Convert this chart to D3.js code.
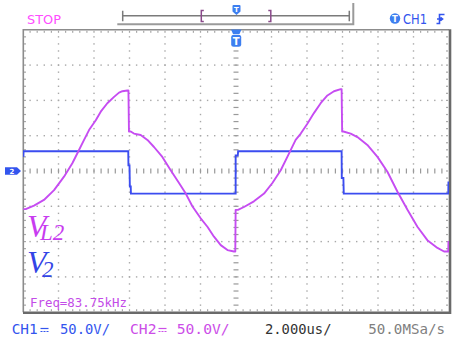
<!DOCTYPE html>
<html>
<head>
<meta charset="utf-8">
<script src="https://cdn.jsdelivr.net/npm/d3@7/dist/d3.min.js"></script>
<style>
  html, body { margin: 0; padding: 0; background: #fff; }
  svg { display: block; }
</style>
</head>
<body>
<svg id="scope" width="453" height="340"></svg>
<script>
// Oscilloscope capture: V_L2 (CH2, magenta) and V_2 (CH1, blue), 2 us/div, 50 V/div.

// Time axis (microseconds): 12 divisions of 2 us, trigger at centre.
const timeDivisions = [-12, -10, -8, -6, -4, -2, 0, 2, 4, 6, 8, 10, 12];
// Voltage axis (volts): 8 divisions of 50 V.
const voltDivisions = [-200, -150, -100, -50, 0, 50, 100, 150, 200];

// CH2 trace, inductor voltage V_L2
const vl2Time = [-11.98, -11.85, -11.38, -10.82, -10.25, -9.69, -9.22, -8.88, -8.56, -8.28,
  -7.90, -7.62, -7.25, -6.87, -6.59, -6.40, -6.12, -6.06, -6.03, -5.93,
  -5.75, -5.37, -4.99, -4.62, -4.15, -3.68, -3.21, -2.83, -2.46, -1.99,
  -1.61, -1.24, -0.86, -0.48, -0.11, -0.04, -0.02, 0.11, 0.45, 1.01,
  1.58, 2.05, 2.52, 2.99, 3.36, 3.65, 4.02, 4.39, 4.77, 5.15,
  5.52, 5.90, 5.95, 5.98, 6.05, 6.46, 6.84, 7.40, 7.97, 8.53,
  9.09, 9.66, 10.22, 10.78, 11.35, 11.72, 11.96, 11.97];
const vl2Volts = [-54, -54, -49, -41, -27, -8, 11, 28, 44, 58,
  72, 84, 96, 105, 111, 113, 114, 114, 56, 56,
  53, 51, 44, 34, 20, 1, -17, -32, -50, -67,
  -79, -93, -105, -112, -114, -114, -55, -55, -51, -43,
  -32, -17, 1, 25, 44, 53, 67, 82, 96, 107,
  113, 116, 116, 56, 56, 53, 48, 37, 20, -1,
  -29, -55, -79, -98, -109, -114, -114, -99];

// CH1 trace, square-wave voltage V_2
const v2Time = [-11.98, -11.97, -6.07, -6.06, -6.00, -5.98, -5.93, -5.92, -0.02, -0.02,
  0.10, 0.12, 5.95, 5.96, 6.05, 6.07, 11.96, 11.97];
const v2Volts = [20, 28, 28, 8, 8, -22, -22, -32, -32, 22,
  22, 28, 28, -10, -10, -32, -32, -15];

// Read-out strings
const statusText = "STOP";
const triggerSource = "CH1";
const freqText = "Freq=83.75kHz";
const ch1Scale = "50.0V/";
const ch2Scale = "50.0V/";
const timeScale = "2.000us/";
const sampleRate = "50.0MSa/s";

const svg = d3.select("#scope");

const x = d3.scaleLinear().domain([-12, 12]).range([23, 449]);
const y = d3.scaleLinear().domain([-200, 200]).range([312.2, 29.8]);

const gridColor = "#a8a8a8";
const subX = (x(2) - x(0)) / 5;
const subY = (y(0) - y(50)) / 5;

// ---- top status bar ----
svg.append("text").attr("x", 27).attr("y", 24)
  .attr("font-family", "DejaVu Sans").attr("font-size", 13)
  .attr("textLength", 34).attr("lengthAdjust", "spacingAndGlyphs")
  .attr("fill", "#ff4dff").text(statusText);

// memory window bar
const bar = svg.append("g").attr("fill", "none");
bar.append("path").attr("d", "M117.3,24.3 H353.3 V3").attr("stroke", "#9a9a9a").attr("stroke-width", 2);
bar.append("path").attr("d", "M122.7,15.7 H349.3 M122.7,10.7 V21.3 M349.3,10.7 V21.3")
  .attr("stroke", "#7a7a7a").attr("stroke-width", 1.5);
bar.append("path").attr("d", "M203.8,10.5 H201.3 V21.5 H203.8 M268.3,10.5 H270.8 V21.5 H268.3")
  .attr("stroke", "#8a4a8a").attr("stroke-width", 1.5);
// small trigger-position tag on the bar
svg.append("path")
  .attr("d", "M232.5,6 Q232.5,5 233.5,5 H239.5 Q240.5,5 240.5,6 V11.5 L236.5,15 L232.5,11.5 Z")
  .attr("fill", "#3d7ff0");
svg.append("text").attr("x", 236.5).attr("y", 11.5).attr("text-anchor", "middle")
  .attr("font-family", "DejaVu Sans").attr("font-weight", "bold").attr("font-size", 7)
  .attr("fill", "#fff").text("T");

// trigger source read-out
svg.append("circle").attr("cx", 395).attr("cy", 18.5).attr("r", 5.2).attr("fill", "#3d7ff0");
svg.append("text").attr("x", 395).attr("y", 22).attr("text-anchor", "middle")
  .attr("font-family", "DejaVu Sans").attr("font-weight", "bold").attr("font-size", 8.5)
  .attr("fill", "#fff").text("T");
svg.append("text").attr("x", 403).attr("y", 24)
  .attr("font-family", "DejaVu Sans").attr("font-size", 14)
  .attr("textLength", 24).attr("lengthAdjust", "spacingAndGlyphs")
  .attr("fill", "#3355ee").text(triggerSource);
// rising-edge symbol
svg.append("path").attr("d", "M436.5,23.5 H439.5 V14.5 H444.5 M437,19 H442.5 M440.5,17.5 L442.5,19 L440.5,20.5")
  .attr("fill", "none").attr("stroke", "#3355ee").attr("stroke-width", 1.6);

// ---- graticule ----
const grid = svg.append("g");
const innerX = timeDivisions.filter(d => d > -12 && d < 12 && d !== 0);
const innerY = voltDivisions.filter(d => d > -200 && d < 200 && d !== 0);
const ySubs = d3.range(0, 41).map(i => y(-200) - i * subY);
const xSubs = d3.range(0, 61).map(i => x(-12) + i * subX);

innerX.forEach(t => {
  ySubs.slice(1, -1).forEach(py => {
    grid.append("rect").attr("x", x(t) - 0.7).attr("y", py - 0.7)
      .attr("width", 1.4).attr("height", 1.4).attr("fill", gridColor);
  });
});
innerY.forEach(v => {
  xSubs.slice(1, -1).forEach(px => {
    grid.append("rect").attr("x", px - 0.7).attr("y", y(v) - 0.7)
      .attr("width", 1.4).attr("height", 1.4).attr("fill", gridColor);
  });
});
// centre axes carry short dashes
xSubs.slice(1, -1).forEach(px => {
  grid.append("rect").attr("x", px - 0.6).attr("y", y(0) - 2.5)
    .attr("width", 1.2).attr("height", 5).attr("fill", "#9a9a9a");
});
ySubs.slice(1, -1).forEach(py => {
  grid.append("rect").attr("x", x(0) - 2.5).attr("y", py - 0.6)
    .attr("width", 5).attr("height", 1.2).attr("fill", "#9a9a9a");
});
// border ticks
xSubs.slice(1, -1).forEach(px => {
  grid.append("rect").attr("x", px - 0.6).attr("y", y(200) + 1).attr("width", 1.2).attr("height", 2).attr("fill", gridColor);
  grid.append("rect").attr("x", px - 0.6).attr("y", y(-200) - 3).attr("width", 1.2).attr("height", 2).attr("fill", gridColor);
});
ySubs.slice(1, -1).forEach(py => {
  grid.append("rect").attr("x", x(-12) + 1).attr("y", py - 0.6).attr("width", 2).attr("height", 1.2).attr("fill", gridColor);
  grid.append("rect").attr("x", x(12) - 3).attr("y", py - 0.6).attr("width", 2).attr("height", 1.2).attr("fill", gridColor);
});
// frame
grid.append("path").attr("d", `M${x(-12) + 0.3},${y(-200)} V${y(200)} H${x(12)}`)
  .attr("fill", "none").attr("stroke", "#8c8c8c").attr("stroke-width", 1.6);
grid.append("path").attr("d", `M${x(-12)},${y(-200) + 0.5} H${x(12) + 1} V${y(200) - 0.5}`)
  .attr("fill", "none").attr("stroke", "#6a6a6a").attr("stroke-width", 2.6);

// ---- traces ----
svg.append("clipPath").attr("id", "screen").append("rect")
  .attr("x", x(-12)).attr("y", y(200)).attr("width", x(12) - x(-12)).attr("height", y(-200) - y(200));

const line = d3.line().x(d => x(d[0])).y(d => y(d[1]));
const traces = svg.append("g").attr("clip-path", "url(#screen)");

traces.append("path")
  .datum(v2Time.map((t, i) => [t, v2Volts[i]]))
  .attr("d", line).attr("fill", "none")
  .attr("stroke", "#3b4cf0").attr("stroke-width", 1.9).attr("stroke-linejoin", "miter");

traces.append("path")
  .datum(vl2Time.map((t, i) => [t, vl2Volts[i]]))
  .attr("d", line).attr("fill", "none")
  .attr("stroke", "#c64cf2").attr("stroke-width", 1.9).attr("stroke-linejoin", "round");

// trigger marker at top of screen
svg.append("path")
  .attr("d", `M${x(0) - 5},29.5 H${x(0) + 5.5} L${x(0) + 3.5},34 H${x(0) - 3} Z`)
  .attr("fill", "#3d7ff0");
svg.append("rect").attr("x", x(0) - 4.8).attr("y", 34.8).attr("width", 10).attr("height", 12)
  .attr("rx", 2.5).attr("fill", "#3d7ff0");
svg.append("text").attr("x", x(0) + 0.2).attr("y", 44.5).attr("text-anchor", "middle")
  .attr("font-family", "DejaVu Sans").attr("font-weight", "bold").attr("font-size", 10)
  .attr("fill", "#fff").text("T");

// CH reference marker on the left
svg.append("path").attr("d", `M5,${y(0) - 3.8} H17 L21,${y(0)} L17,${y(0) + 3.8} H5 Z`)
  .attr("fill", "#3355ee");
svg.append("text").attr("x", 12).attr("y", y(0) + 2.8).attr("text-anchor", "middle")
  .attr("font-family", "DejaVu Sans").attr("font-weight", "bold").attr("font-size", 7)
  .attr("fill", "#fff").text("2");

// ---- waveform labels (italic V with subscript tucked under its arm) ----
function symbolLabel(lx, ly, sub, tuck, subDy, color) {
  const t = svg.append("text").attr("x", lx).attr("y", ly)
    .attr("font-family", "Liberation Serif").attr("font-style", "italic").attr("font-size", 32)
    .attr("fill", color);
  t.append("tspan").attr("letter-spacing", -tuck).text("V");
  t.append("tspan").attr("dy", subDy).attr("font-size", 23).attr("letter-spacing", 0).text(sub);
}
symbolLabel(27, 236.5, "L2", 6.5, 3.5, "#c83cf0");
symbolLabel(27, 273.3, "2", 4.5, 3.7, "#3344e6");

// frequency read-out
svg.append("text").attr("x", 30).attr("y", 306.5)
  .attr("font-family", "DejaVu Sans Mono").attr("font-size", 12)
  .attr("textLength", 97).attr("lengthAdjust", "spacingAndGlyphs")
  .attr("fill", "#c34ce8").text(freqText);

// ---- bottom status line ----
const mono = "DejaVu Sans Mono";
function readout(tx, txt, len, color) {
  svg.append("text").attr("x", tx).attr("y", 334)
    .attr("font-family", mono).attr("font-size", 14)
    .attr("textLength", len).attr("lengthAdjust", "spacingAndGlyphs")
    .attr("fill", color).text(txt);
}
function dcSymbol(sx, color) {
  svg.append("path").attr("d", `M${sx},328.5 H${sx + 8}`).attr("stroke", color).attr("stroke-width", 1.2);
  svg.append("path").attr("d", `M${sx},331.5 H${sx + 8}`).attr("stroke", color).attr("stroke-width", 1.2)
    .attr("stroke-dasharray", "2,1");
}
readout(11.7, "CH1", 26, "#3355ee");
dcSymbol(40.5, "#3355ee");
readout(60, ch1Scale, 50, "#3355ee");
readout(130, "CH2", 26.5, "#cc4ee8");
dcSymbol(158.5, "#cc4ee8");
readout(176.7, ch2Scale, 53, "#cc4ee8");
readout(265, timeScale, 66.5, "#333333");
readout(368.3, sampleRate, 76.7, "#808080");
</script>
</body>
</html>
